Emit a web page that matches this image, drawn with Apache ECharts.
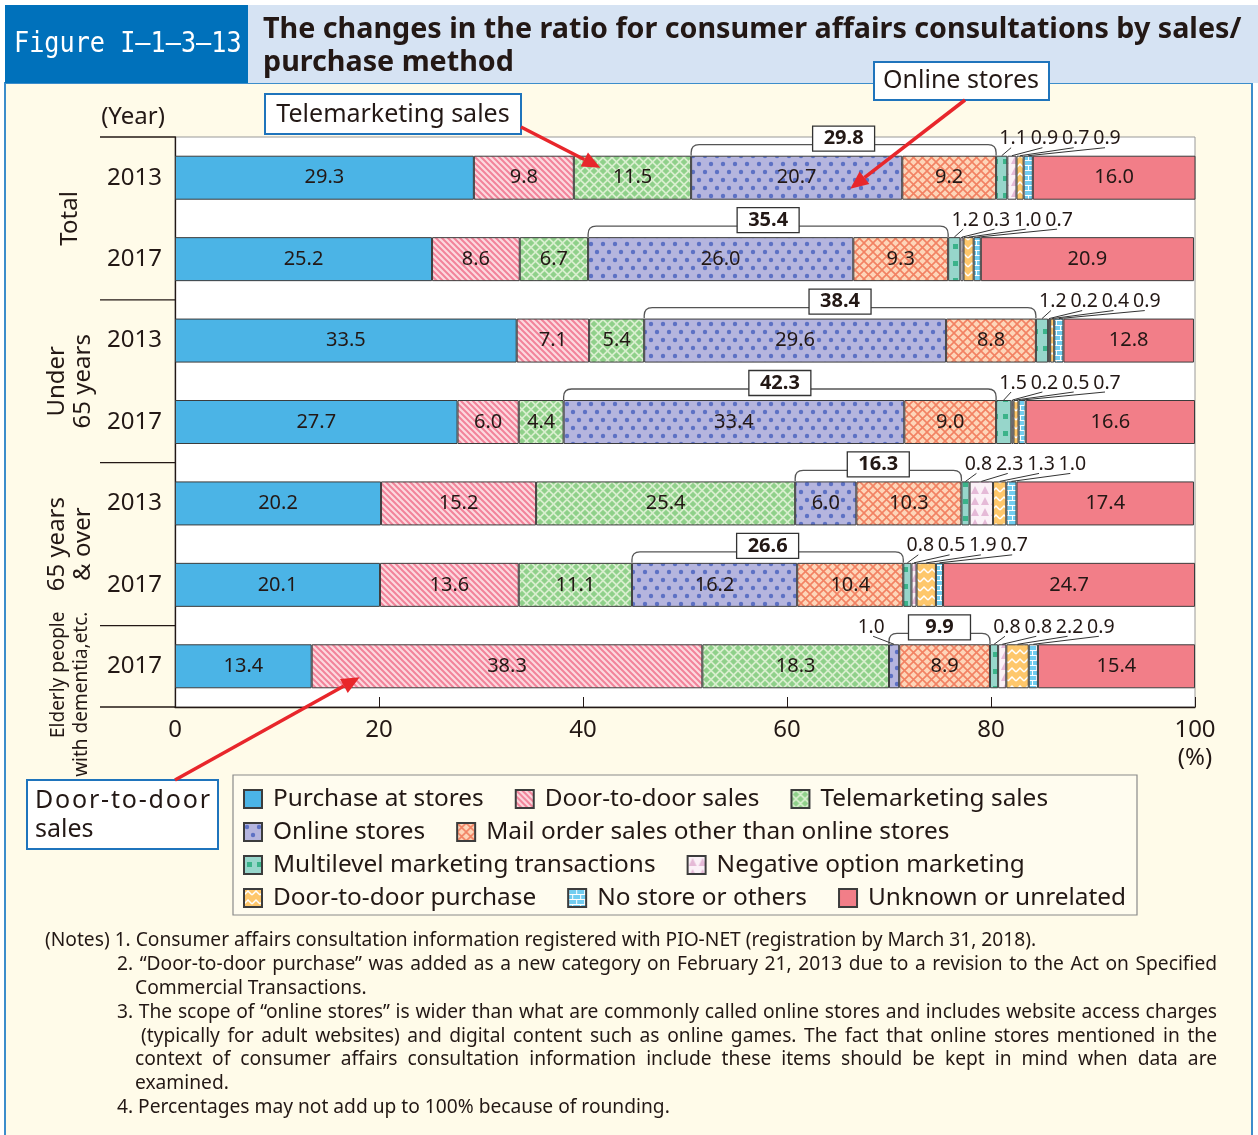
<!DOCTYPE html>
<html>
<head>
<meta charset="utf-8">
<script src="https://cdn.jsdelivr.net/npm/echarts/dist/echarts.min.js"></script>
<style>
html, body { margin: 0; padding: 0; background: #fff; }
#chart { width: 1258px; height: 1135px; }
</style>
</head>
<body>
<div id="chart"></div>
<script>
const FONT = '"Noto Sans", "Open Sans", sans-serif';
const INK = '#231815';
const RED = '#E8262B';

const rowYears = ['2013', '2017', '2013', '2017', '2013', '2017', '2017'];
const groupNames = ['Total', 'Under\n65 years', '65 years\n& over', 'Elderly people\nwith dementia,etc.'];
const groupRows = [[0, 1], [2, 3], [4, 5], [6, 6]];
const methodNames = ['Purchase at stores', 'Door-to-door sales', 'Telemarketing sales', 'Online stores',
    'Mail order sales other than online stores', 'Multilevel marketing transactions',
    'Negative option marketing', 'Door-to-door purchase', 'No store or others', 'Unknown or unrelated'];

const purchaseAtStores   = [29.3, 25.2, 33.5, 27.7, 20.2, 20.1, 13.4];
const doorToDoorSales    = [9.8, 8.6, 7.1, 6.0, 15.2, 13.6, 38.3];
const telemarketingSales = [11.5, 6.7, 5.4, 4.4, 25.4, 11.1, 18.3];
const onlineStores       = [20.7, 26.0, 29.6, 33.4, 6.0, 16.2, 1.0];
const mailOrderSales     = [9.2, 9.3, 8.8, 9.0, 10.3, 10.4, 8.9];
const multilevel         = [1.1, 1.2, 1.2, 1.5, 0.8, 0.8, 0.8];
const negativeOption     = [0.9, 0.3, 0.2, 0.2, 2.3, 0.5, 0.8];
const doorToDoorPurchase = [0.7, 1.0, 0.4, 0.5, 1.3, 1.9, 2.2];
const noStoreOrOthers    = [0.9, 0.7, 0.9, 0.7, 1.0, 0.7, 0.9];
const unknownOrUnrelated = [16.0, 20.9, 12.8, 16.6, 17.4, 24.7, 15.4];
// bracketed total of online stores + mail order
const onlineAndMailTotal = [29.8, 35.4, 38.4, 42.3, 16.3, 26.6, 9.9];

const methodValues = [purchaseAtStores, doorToDoorSales, telemarketingSales, onlineStores, mailOrderSales,
    multilevel, negativeOption, doorToDoorPurchase, noStoreOrOthers, unknownOrUnrelated];

const BAR = 44;

function makePattern(w, h, bg, draw) {
    let c = document.createElement('canvas');
    c.width = w;
    c.height = h;
    let ctx = c.getContext('2d');
    ctx.fillStyle = bg;
    ctx.fillRect(0, 0, w, h);
    draw(ctx);
    return { image: c, repeat: 'repeat' };
}

let methodFills = [
    '#4BB4E6',
    makePattern(6, 6, '#FCD9DF', function (ctx) {
        ctx.strokeStyle = '#F2839A';
        ctx.lineWidth = 2;
        ctx.beginPath();
        ctx.moveTo(-1, -1); ctx.lineTo(7, 7);
        ctx.moveTo(-1, 5); ctx.lineTo(1, 7);
        ctx.moveTo(5, -1); ctx.lineTo(7, 1);
        ctx.stroke();
    }),
    makePattern(9, 9, '#D9EFCF', function (ctx) {
        ctx.fillStyle = '#8FD08A';
        let diamond = function (cx, cy, s) {
            ctx.beginPath();
            ctx.moveTo(cx, cy - s); ctx.lineTo(cx + s, cy); ctx.lineTo(cx, cy + s); ctx.lineTo(cx - s, cy);
            ctx.closePath();
            ctx.fill();
        };
        diamond(4.5, 4.5, 3.3);
        [0, 9].forEach(function (x) { [0, 9].forEach(function (y) { diamond(x, y, 3.3); }); });
    }),
    makePattern(12, 16, '#B5B5DE', function (ctx) {
        ctx.fillStyle = '#5D71C4';
        [[3, 4], [9, 12]].forEach(function (p) {
            ctx.beginPath();
            ctx.arc(p[0], p[1], 2.2, 0, Math.PI * 2);
            ctx.fill();
        });
    }),
    makePattern(9, 9, '#FDD5B9', function (ctx) {
        ctx.strokeStyle = '#F28263';
        ctx.lineWidth = 1.6;
        ctx.beginPath();
        ctx.moveTo(-1, -1); ctx.lineTo(10, 10);
        ctx.moveTo(10, -1); ctx.lineTo(-1, 10);
        ctx.stroke();
    }),
    makePattern(10, 17, '#97D6CB', function (ctx) {
        ctx.fillStyle = '#3BB38A';
        ctx.fillRect(3, 6, 5, 5);
    }),
    makePattern(10, 11, '#FBF1F7', function (ctx) {
        ctx.fillStyle = '#E5BAD7';
        ctx.beginPath();
        ctx.moveTo(1, 10); ctx.lineTo(5, 2); ctx.lineTo(9, 10);
        ctx.closePath();
        ctx.fill();
    }),
    makePattern(8, 9, '#FEC76B', function (ctx) {
        ctx.strokeStyle = '#fff';
        ctx.lineWidth = 1.5;
        ctx.beginPath();
        ctx.moveTo(0, 6); ctx.lineTo(4, 2); ctx.lineTo(8, 6);
        ctx.stroke();
    }),
    makePattern(8, 10, '#72CDF0', function (ctx) {
        ctx.strokeStyle = '#fff';
        ctx.lineWidth = 1;
        ctx.beginPath();
        ctx.moveTo(0, 0.5); ctx.lineTo(8, 0.5);
        ctx.moveTo(0, 5.5); ctx.lineTo(8, 5.5);
        ctx.moveTo(0.5, 0); ctx.lineTo(0.5, 5);
        ctx.moveTo(4.5, 5); ctx.lineTo(4.5, 10);
        ctx.stroke();
    }),
    '#F27E88'
];

let barSeries = methodNames.map(function (name, i) {
    return {
        name: name,
        type: 'bar',
        stack: 'all',
        barWidth: BAR,
        silent: true,
        data: methodValues[i],
        itemStyle: { color: methodFills[i], borderColor: '#3c3c3c', borderWidth: 1 },
        label: {
            show: true,
            position: 'inside',
            fontSize: 20,
            fontFamily: FONT,
            color: INK,
            textBorderWidth: 0,
            formatter: function (p) {
                return (i >= 5 && i <= 8) || p.value < 3 ? '' : p.value.toFixed(1);
            }
        }
    };
});

function txt(x, y, text, size, extra) {
    let style = { text: text, fontSize: size, fontFamily: FONT, fill: INK, align: 'left', verticalAlign: 'middle' };
    Object.assign(style, extra || {});
    return { type: 'text', x: x, y: y, style: style };
}

// lay the pieces of a line out evenly between x0 and x1 (justified text)
let measureCtx = document.createElement('canvas').getContext('2d');
function spread(pieces, x0, x1, y, size) {
    measureCtx.font = size + 'px "Noto Sans"';
    let widths = pieces.map(function (w) { return measureCtx.measureText(w).width; });
    let total = widths.reduce(function (a, b) { return a + b; }, 0);
    let gap = (x1 - x0 - total) / (pieces.length - 1);
    let x = x0;
    return pieces.map(function (w, i) {
        let el = txt(x, y, w, size);
        x += widths[i] + gap;
        return el;
    });
}

// brackets, boxed totals and the small outside labels
function renderBrackets(params, api) {
    let r = params.dataIndex;
    let top = api.coord([0, r])[1] - BAR / 2;
    let s0 = purchaseAtStores[r] + doorToDoorSales[r] + telemarketingSales[r];
    let s1 = s0 + onlineStores[r] + mailOrderSales[r];
    let x1 = api.coord([s0, r])[0];
    let x2 = api.coord([s1, r])[0];
    let yb = top - 11, rr = 8;
    let my = top - 17;
    let children = [];
    children.push({
        type: 'path',
        shape: { pathData: 'M' + x1 + ',' + top + ' L' + x1 + ',' + (yb + rr) + ' Q' + x1 + ',' + yb + ' ' + (x1 + rr) + ',' + yb +
            ' L' + (x2 - rr) + ',' + yb + ' Q' + x2 + ',' + yb + ' ' + x2 + ',' + (yb + rr) + ' L' + x2 + ',' + top },
        style: { fill: 'none', stroke: '#555', lineWidth: 1.3 }
    });
    let mx = (x1 + x2) / 2;
    children.push({ type: 'rect', shape: { x: mx - 31, y: my - 12.5, width: 62, height: 25 },
        style: { fill: '#fff', stroke: '#333', lineWidth: 1.3 } });
    children.push(txt(mx, my, onlineAndMailTotal[r].toFixed(1), 20, { align: 'center', fontWeight: 'bold' }));

    // tiny main-method segments get a label on the left
    let acc = 0;
    for (let i = 0; i < 5; i++) {
        let v = methodValues[i][r];
        if (v < 3) {
            let cx = api.coord([acc + v / 2, r])[0];
            let lx = cx - 23;
            children.push({ type: 'line', shape: { x1: lx + 2, y1: my + 9, x2: cx, y2: top },
                style: { stroke: '#333', lineWidth: 1 } });
            children.push(txt(lx, my, v.toFixed(1), 19, { align: 'center' }));
        }
        acc += v;
    }

    let small = [multilevel[r], negativeOption[r], doorToDoorPurchase[r], noStoreOrOthers[r]];
    let lx0 = x2 + 17;
    acc = s1;
    small.forEach(function (v, k) {
        let cx = api.coord([acc + v / 2, r])[0];
        acc += v;
        let lx = lx0 + 31.3 * k;
        children.push({ type: 'line', shape: { x1: lx - 2, y1: my + 9, x2: cx, y2: top },
            style: { stroke: '#333', lineWidth: 1 } });
        children.push(txt(lx, my, v.toFixed(1), 19.5, { align: 'center' }));
    });
    return { type: 'group', children: children };
}

function renderGroups(params, api) {
    let i = params.dataIndex;
    let g = groupRows[i];
    let band = api.size([0, 1])[1];
    let yTop = api.coord([0, g[0]])[1] - band / 2;
    let yBot = api.coord([0, g[1]])[1] + band / 2;
    let x0 = api.coord([0, g[0]])[0];
    let last = i === groupRows.length - 1;
    let children = [
        { type: 'line', shape: { x1: x0 - 75, y1: yTop, x2: x0, y2: yTop }, style: { stroke: INK, lineWidth: 1.3 } }
    ];
    if (last) {
        children.push({ type: 'line', shape: { x1: x0 - 75, y1: yBot, x2: x0, y2: yBot }, style: { stroke: INK, lineWidth: 1.3 } });
    }
    let t = txt(x0 - 105, last ? yTop - 14 : (yTop + yBot) / 2, groupNames[i], last ? 19 : 24,
        { align: last ? 'right' : 'center', lineHeight: last ? 23 : 26 });
    t.rotation = Math.PI / 2;
    children.push(t);
    return { type: 'group', children: children };
}

const NOTE = 19.2;
let figureLabel = txt(14, 45, 'Figure I\u20131\u20133\u201313', 28, { fill: '#fff', fontFamily: '"DejaVu Sans Mono", monospace' });
figureLabel.scaleX = 0.9;

let staticGraphic = [
    { type: 'rect', z: -10, shape: { x: 5, y: 83, width: 1247, height: 1060 }, style: { fill: '#FFFBE9', stroke: '#3C8DCB', lineWidth: 2 } },
    { type: 'rect', z: -10, shape: { x: 5, y: 5, width: 243, height: 78 }, style: { fill: '#0071BB' } },
    { type: 'rect', z: -10, shape: { x: 248, y: 5, width: 1010, height: 78 }, style: { fill: '#D6E3F3' } },
    figureLabel,
    txt(263, 30, 'The changes in the ratio for consumer affairs consultations by sales/', 28.7, { fontWeight: 'bold' }),
    txt(263, 63, 'purchase method', 28.7, { fontWeight: 'bold' }),
    txt(133, 117, '(Year)', 24, { align: 'center' }),
    { type: 'rect', z: -5, shape: { x: 233, y: 775, width: 904, height: 140 }, style: { fill: '#FFFCEF', stroke: '#8a8a8a', lineWidth: 1.2 } },
    // callout boxes
    { type: 'rect', z: 20, shape: { x: 265, y: 94, width: 256, height: 40 }, style: { fill: '#fff', stroke: '#1F74BC', lineWidth: 2 } },
    Object.assign(txt(393, 115, 'Telemarketing sales', 25, { align: 'center' }), { z: 21 }),
    { type: 'rect', z: 20, shape: { x: 874, y: 62, width: 175, height: 38 }, style: { fill: '#fff', stroke: '#1F74BC', lineWidth: 2 } },
    Object.assign(txt(961, 81, 'Online stores', 25, { align: 'center' }), { z: 21 }),
    { type: 'rect', z: 20, shape: { x: 27, y: 780, width: 191, height: 69 }, style: { fill: '#fff', stroke: '#1F74BC', lineWidth: 2 } }
].concat(
    spread('Door-to-door'.split(''), 35, 210, 801, 25).map(function (e) { e.z = 21; return e; }),
    [Object.assign(txt(35, 830, 'sales', 25), { z: 21 })],
    // notes
    [txt(45, 941, '(Notes) 1. Consumer affairs consultation information registered with PIO-NET (registration by March 31, 2018).', NOTE)],
    spread('2. \u201cDoor-to-door purchase\u201d was added as a new category on February 21, 2013 due to a revision to the Act on Specified'.split(' '), 117, 1217, 965, NOTE),
    [txt(135, 989, 'Commercial Transactions.', NOTE)],
    spread('3. The scope of \u201conline stores\u201d is wider than what are commonly called online stores and includes website access charges'.split(' '), 117, 1217, 1013, NOTE),
    spread('(typically for adult websites) and digital content such as online games. The fact that online stores mentioned in the'.split(' '), 141, 1217, 1037, NOTE),
    spread('context of consumer affairs consultation information include these items should be kept in mind when data are'.split(' '), 135, 1217, 1060, NOTE),
    [txt(135, 1084, 'examined.', NOTE)],
    [txt(117, 1108, '4. Percentages may not add up to 100% because of rounding.', NOTE)]
);

const legendRows = [[0, 1, 2], [3, 4], [5, 6], [7, 8, 9]];

let option = {
    backgroundColor: '#fff',
    animation: false,
    textStyle: { fontFamily: FONT },
    grid: {
        left: 175, top: 137, width: 1020, height: 570,
        show: true, backgroundColor: '#fff', borderColor: '#999', borderWidth: 1
    },
    legend: legendRows.map(function (idx, k) {
        return {
            data: idx.map(function (i) { return methodNames[i]; }),
            left: 243, top: 787 + 33 * k, padding: 0,
            itemGap: 31, itemWidth: 18, itemHeight: 18, icon: 'rect',
            selectedMode: false,
            textStyle: { fontSize: 24.4, color: INK, fontFamily: FONT, padding: [0, 0, 0, 6] }
        };
    }),
    xAxis: {
        type: 'value', min: 0, max: 100, interval: 20,
        axisLine: { show: true, lineStyle: { color: INK, width: 1.3 } },
        axisTick: { show: true, inside: true, length: 10, lineStyle: { color: INK } },
        splitLine: { show: false },
        axisLabel: {
            fontSize: 24, color: INK, margin: 9, lineHeight: 28,
            formatter: function (v) { return v === 100 ? '100\n(%)' : String(v); }
        }
    },
    yAxis: {
        type: 'category', inverse: true, data: rowYears,
        axisLine: { lineStyle: { color: INK, width: 1.3 } },
        axisTick: { inside: true, length: 10, lineStyle: { color: INK } },
        axisLabel: { fontSize: 24, color: INK, margin: 13 }
    },
    series: barSeries.concat([
        {
            type: 'custom', name: 'brackets', silent: true, clip: false, z: 10,
            coordinateSystem: 'cartesian2d', encode: { x: 0, y: 1 },
            data: rowYears.map(function (_, r) { return [0, r]; }),
            renderItem: renderBrackets
        },
        {
            type: 'custom', name: 'groups', silent: true, clip: false, z: 10,
            coordinateSystem: 'cartesian2d', encode: { x: 0, y: 1 },
            data: groupRows.map(function (g) { return [0, g[0]]; }),
            renderItem: renderGroups
        }
    ]),
    graphic: staticGraphic
};

let chart = echarts.init(document.getElementById('chart'));
chart.setOption(option);

// callout arrows: tail at the box, tip on the bar it names
const callouts = [
    { from: [521, 127], value: 41.7, row: 0, dy: -10 },
    { from: [965, 100], value: 66.2, row: 0, dy: 11 },
    { from: [175, 780], value: 18.1, row: 6, dy: 11 }
];

function arrow(x1, y1, x2, y2) {
    let ang = Math.atan2(y2 - y1, x2 - x1);
    let L = 18, W = 8;
    let bx = x2 - L * Math.cos(ang), by = y2 - L * Math.sin(ang);
    let sx = Math.sin(ang), cx = Math.cos(ang);
    return [
        { type: 'line', z: 20, shape: { x1: x1, y1: y1, x2: bx, y2: by }, style: { stroke: RED, lineWidth: 3.5 } },
        { type: 'polygon', z: 20, shape: { points: [[x2, y2], [bx + W * sx, by - W * cx], [bx - W * sx, by + W * cx]] }, style: { fill: RED } }
    ];
}

let arrows = [];
callouts.forEach(function (c) {
    let p = chart.convertToPixel({ gridIndex: 0 }, [c.value, c.row]);
    arrows = arrows.concat(arrow(c.from[0], c.from[1], p[0], p[1] + c.dy));
});
chart.setOption({ graphic: staticGraphic.concat(arrows) });
</script>
</body>
</html>
